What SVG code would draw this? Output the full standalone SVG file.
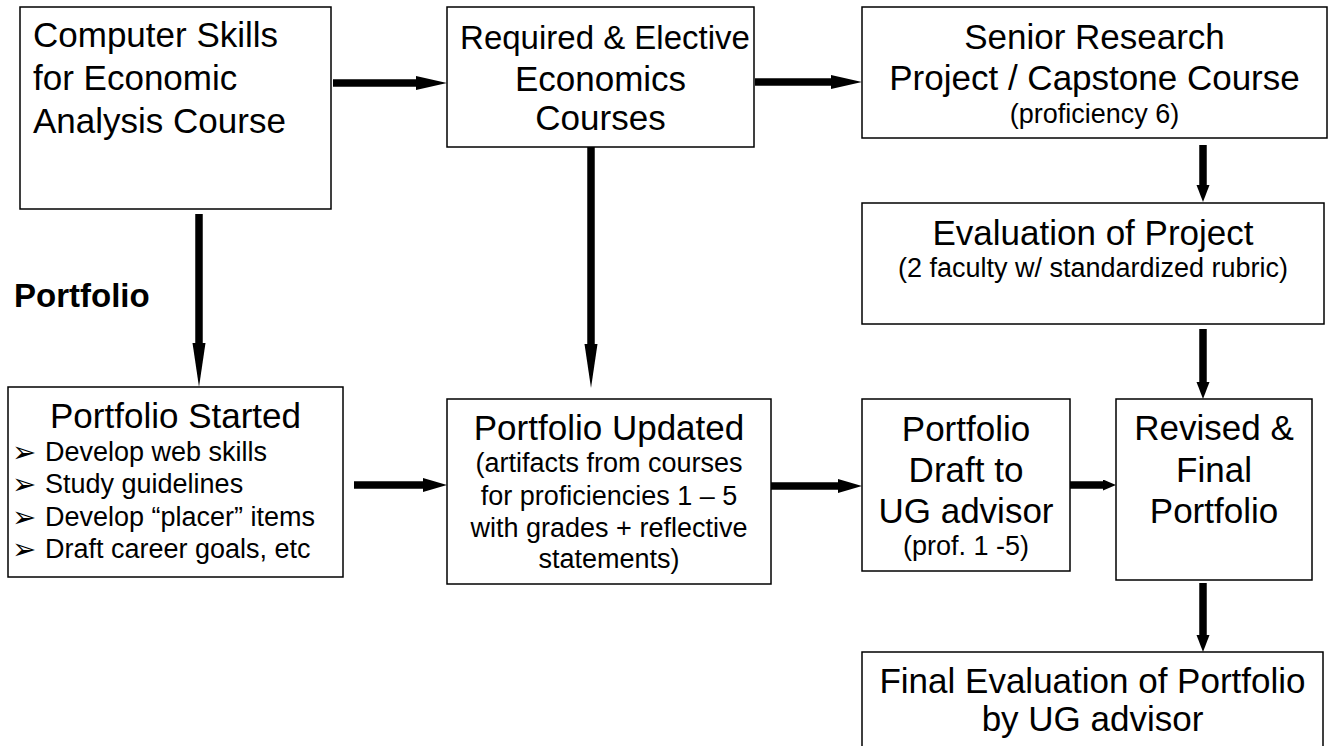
<svg xmlns="http://www.w3.org/2000/svg" width="1330" height="746" viewBox="0 0 1330 746">
<style>
.box{fill:#fff;stroke:#000;stroke-width:1.5}
.t{font-family:"Liberation Sans",Arial,sans-serif;font-size:35px;fill:#000}
.s{font-family:"Liberation Sans",Arial,sans-serif;font-size:27px;fill:#000}
.m{text-anchor:middle}
.b{font-family:"DejaVu Sans",sans-serif;font-size:29px;fill:#000}
.lbl{font-family:"Liberation Sans",Arial,sans-serif;font-size:33px;font-weight:bold;fill:#000}
.c{stroke:#000;stroke-width:7.5;fill:none}
</style>
<defs>
<marker id="hA" markerUnits="userSpaceOnUse" markerWidth="32" markerHeight="16" refX="0" refY="7" orient="auto"><path d="M0,0 L31,7 L0,14 Z" fill="#000"/></marker>
<marker id="hB" markerUnits="userSpaceOnUse" markerWidth="46" markerHeight="14" refX="0" refY="6.5" orient="auto"><path d="M0,0 L44,6.5 L0,13 Z" fill="#000"/></marker>
<marker id="hC" markerUnits="userSpaceOnUse" markerWidth="20" markerHeight="14" refX="0" refY="6.5" orient="auto"><path d="M0,0 L17,6.5 L0,13 Z" fill="#000"/></marker>
<marker id="hD" markerUnits="userSpaceOnUse" markerWidth="26" markerHeight="16" refX="0" refY="7" orient="auto"><path d="M0,0 L24,7 L0,14 Z" fill="#000"/></marker>
<marker id="hE" markerUnits="userSpaceOnUse" markerWidth="14" markerHeight="12" refX="0" refY="5.5" orient="auto"><path d="M0,0 L13,5.5 L0,11 Z" fill="#000"/></marker>
</defs>

<g id="connectors">
<line class="c" x1="333" y1="83" x2="416" y2="83" marker-end="url(#hA)"/>
<line class="c" x1="755" y1="82" x2="831" y2="82" marker-end="url(#hA)"/>
<line class="c" x1="199" y1="214" x2="199" y2="343" marker-end="url(#hB)"/>
<line class="c" x1="591" y1="145" x2="591" y2="344" marker-end="url(#hB)"/>
<line class="c" x1="1203" y1="145" x2="1203" y2="185" marker-end="url(#hC)"/>
<line class="c" x1="1203" y1="329" x2="1203" y2="382" marker-end="url(#hC)"/>
<line class="c" x1="1203" y1="583" x2="1203" y2="635" marker-end="url(#hC)"/>
<line class="c" x1="354" y1="485" x2="423" y2="485" marker-end="url(#hD)"/>
<line class="c" x1="771" y1="486" x2="838" y2="486" marker-end="url(#hD)"/>
<line class="c" x1="1070" y1="485" x2="1103" y2="485" marker-end="url(#hE)"/>
</g>

<g id="computer-skills">
<rect class="box" x="20" y="7" width="311" height="202"/>
<text class="t" x="33" y="47">Computer Skills</text>
<text class="t" x="33" y="90">for Economic</text>
<text class="t" x="33" y="133">Analysis Course</text>
</g>

<g id="required-elective">
<rect class="box" x="447" y="7" width="307" height="140"/>
<text class="t m" x="605" y="49" style="font-size:33px">Required &amp; Elective</text>
<text class="t m" x="600.5" y="91">Economics</text>
<text class="t m" x="600.5" y="130">Courses</text>
</g>

<g id="senior-research">
<rect class="box" x="862" y="7" width="465" height="131"/>
<text class="t m" x="1094.5" y="49">Senior Research</text>
<text class="t m" x="1094.5" y="90">Project / Capstone Course</text>
<text class="s m" x="1094.5" y="123">(proficiency 6)</text>
</g>

<g id="evaluation-project">
<rect class="box" x="862" y="203" width="462" height="121"/>
<text class="t m" x="1093" y="245">Evaluation of Project</text>
<text class="s m" x="1093" y="277">(2 faculty w/ standardized rubric)</text>
</g>

<text id="portfolio-label" class="lbl" x="14" y="307">Portfolio</text>

<g id="portfolio-started">
<rect class="box" x="8" y="387" width="335" height="190"/>
<text class="t m" x="175.5" y="428">Portfolio Started</text>
<text class="b" x="12" y="462">➢</text>
<text class="s" x="45" y="461">Develop web skills</text>
<text class="b" x="12" y="494">➢</text>
<text class="s" x="45" y="493">Study guidelines</text>
<text class="b" x="12" y="527">➢</text>
<text class="s" x="45" y="526">Develop “placer” items</text>
<text class="b" x="12" y="559">➢</text>
<text class="s" x="45" y="558">Draft career goals, etc</text>
</g>

<g id="portfolio-updated">
<rect class="box" x="447" y="399" width="324" height="185"/>
<text class="t m" x="609" y="440">Portfolio Updated</text>
<text class="s m" x="609" y="472">(artifacts from courses</text>
<text class="s m" x="609" y="505">for proficiencies 1 – 5</text>
<text class="s m" x="609" y="537">with grades + reflective</text>
<text class="s m" x="609" y="568">statements)</text>
</g>

<g id="portfolio-draft">
<rect class="box" x="862" y="399" width="208" height="172"/>
<text class="t m" x="966" y="441">Portfolio</text>
<text class="t m" x="966" y="482">Draft to</text>
<text class="t m" x="966" y="523">UG advisor</text>
<text class="s m" x="966" y="555">(prof. 1 -5)</text>
</g>

<g id="revised-final">
<rect class="box" x="1116" y="399" width="196" height="181"/>
<text class="t m" x="1214" y="440">Revised &amp;</text>
<text class="t m" x="1214" y="482">Final</text>
<text class="t m" x="1214" y="523">Portfolio</text>
</g>

<g id="final-evaluation">
<rect class="box" x="862" y="652" width="461" height="110"/>
<text class="t m" x="1092.5" y="693">Final Evaluation of Portfolio</text>
<text class="t m" x="1092.5" y="731">by UG advisor</text>
</g>
</svg>
